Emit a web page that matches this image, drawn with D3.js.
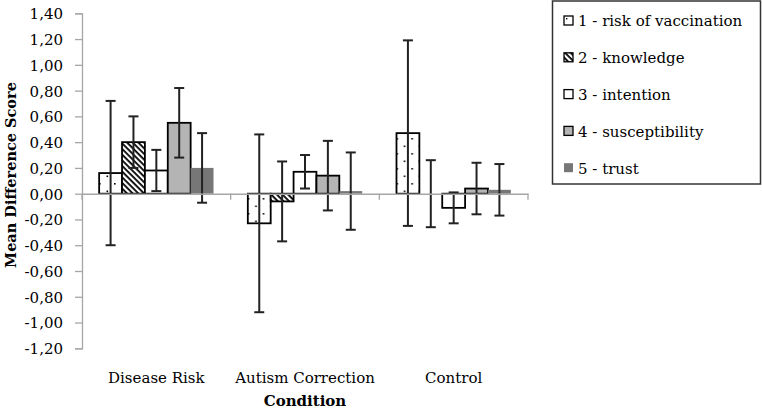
<!DOCTYPE html>
<html>
<head>
<meta charset="utf-8">
<script src="https://cdn.jsdelivr.net/npm/d3@7"></script>
<style>
  html, body { margin: 0; padding: 0; background: #fff; }
  svg { display: block; }
  text { font-family: "DejaVu Serif", serif; fill: #000; }
</style>
</head>
<body>
<svg id="chart" width="762" height="411"></svg>
<script>
// ---- data ----
const categories = ["Disease Risk", "Autism Correction", "Control"];
const seriesNames = ["1 - risk of vaccination", "2 - knowledge", "3 - intention", "4 - susceptibility", "5 - trust"];
const diseaseRiskMeans = [0.16, 0.40, 0.18, 0.55, 0.20];
const autismCorrectionMeans = [-0.23, -0.06, 0.17, 0.14, 0.02];
const controlMeans = [0.47, 0.00, -0.11, 0.04, 0.03];
const diseaseRiskErrors = [0.56, 0.20, 0.16, 0.27, 0.27];
const autismCorrectionErrors = [0.69, 0.31, 0.13, 0.27, 0.30];
const controlErrors = [0.72, 0.26, 0.12, 0.20, 0.20];
const yTicks = [1.4, 1.2, 1.0, 0.8, 0.6, 0.4, 0.2, 0.0, -0.2, -0.4, -0.6, -0.8, -1.0, -1.2];

const meansByCat = [diseaseRiskMeans, autismCorrectionMeans, controlMeans];
const errsByCat = [diseaseRiskErrors, autismCorrectionErrors, controlErrors];
const rows = [];
categories.forEach((c, ci) => {
  seriesNames.forEach((s, si) => {
    rows.push({cat: c, series: s, si: si, value: meansByCat[ci][si], err: errsByCat[ci][si]});
  });
});

// ---- layout ----
const svg = d3.select("#chart");
const plotLeft = 82, plotRight = 528, plotTop = 13.3, plotBottom = 348.3;
const axisGray = "#a6a6a6";
const fills = ["url(#dots)", "url(#hatch)", "#ffffff", "#b4b4b4", "#777777"];
const strokes = ["#000", "#000", "#000", "#000", "none"];

const defs = svg.append("defs");
const dots = defs.append("pattern").attr("id", "dots").attr("patternUnits", "userSpaceOnUse")
  .attr("width", 15).attr("height", 15).attr("x", 2).attr("y", 3);
dots.append("rect").attr("width", 15).attr("height", 15).attr("fill", "#fff");
dots.append("rect").attr("x", 0).attr("y", 0).attr("width", 1.6).attr("height", 1.6).attr("fill", "#000");
dots.append("rect").attr("x", 7.5).attr("y", 7.5).attr("width", 1.6).attr("height", 1.6).attr("fill", "#000");

const hatch = defs.append("pattern").attr("id", "hatch").attr("patternUnits", "userSpaceOnUse")
  .attr("width", 4).attr("height", 4).attr("patternTransform", "rotate(45)");
hatch.append("rect").attr("width", 4).attr("height", 4).attr("fill", "#fff");
hatch.append("rect").attr("width", 4).attr("height", 1.8).attr("fill", "#000");

const x0 = d3.scaleBand().domain(categories).range([plotLeft, plotRight]).padding(0);
const x1 = d3.scaleBand().domain(seriesNames).range([0, x0.bandwidth()]).paddingInner(0).paddingOuter(0.75);
const y = d3.scaleLinear().domain([-1.2, 1.4]).range([plotBottom, plotTop]);

// y axis
const yAxis = d3.axisLeft(y).tickValues(yTicks).tickSize(7).tickPadding(12)
  .tickFormat(d => d3.format(".2f")(d).replace(".", ",").replace("−", "-"));
const gy = svg.append("g").attr("transform", `translate(${plotLeft},0)`).call(yAxis);
gy.select(".domain").attr("stroke", axisGray).attr("stroke-width", 1.3);
gy.selectAll(".tick line").attr("stroke", axisGray).attr("stroke-width", 1.3);
gy.selectAll(".tick text").attr("font-size", 15).attr("font-family", "DejaVu Serif").attr("fill", "#000").attr("dy", "0.36em");

// bars
const groups = svg.append("g").selectAll("g").data(categories).join("g")
  .attr("transform", d => `translate(${x0(d)},0)`);
groups.selectAll("rect").data(c => rows.filter(r => r.cat === c)).join("rect")
  .attr("x", d => x1(d.series))
  .attr("width", x1.bandwidth())
  .attr("y", d => y(Math.max(0, d.value)))
  .attr("height", d => Math.abs(y(d.value) - y(0)))
  .attr("fill", d => fills[d.si])
  .attr("stroke", d => strokes[d.si])
  .attr("stroke-width", 1.8);

// x axis (zero line)
const xAxis = d3.axisBottom(x0).tickSize(0).tickFormat("");
const gx = svg.append("g").attr("transform", `translate(0,${y(0)})`).call(xAxis);
gx.select(".domain").attr("stroke", axisGray).attr("stroke-width", 1.6);
// boundary ticks
const boundaries = categories.map(c => x0(c) + x0.bandwidth()).concat([x0(categories[0])]);
gx.selectAll("line.bt").data(boundaries).join("line").attr("class", "bt")
  .attr("x1", d => d).attr("x2", d => d).attr("y1", 0).attr("y2", 6)
  .attr("stroke", axisGray).attr("stroke-width", 1.3);

// error bars
const eg = groups.selectAll("g.err").data(c => rows.filter(r => r.cat === c)).join("g").attr("class", "err");
const ecx = d => x1(d.series) + x1.bandwidth() / 2;
eg.append("line").attr("x1", ecx).attr("x2", ecx)
  .attr("y1", d => y(d.value + d.err)).attr("y2", d => y(d.value - d.err));
eg.append("line").attr("x1", d => ecx(d) - 5).attr("x2", d => ecx(d) + 5)
  .attr("y1", d => y(d.value + d.err)).attr("y2", d => y(d.value + d.err));
eg.append("line").attr("x1", d => ecx(d) - 5).attr("x2", d => ecx(d) + 5)
  .attr("y1", d => y(d.value - d.err)).attr("y2", d => y(d.value - d.err));
eg.selectAll("line").attr("stroke", "#222").attr("stroke-width", 2);

// category labels
svg.append("g").selectAll("text").data(categories).join("text")
  .attr("x", d => x0(d) + x0.bandwidth() / 2)
  .attr("y", 383)
  .attr("text-anchor", "middle")
  .attr("font-size", 15)
  .text(d => d);

// axis titles
svg.append("text").attr("x", (plotLeft + plotRight) / 2).attr("y", 406)
  .attr("text-anchor", "middle").attr("font-size", 15).attr("font-weight", "bold").text("Condition");
svg.append("text").attr("transform", "translate(16,175) rotate(-90)")
  .attr("text-anchor", "middle").attr("font-size", 14.5).attr("font-weight", "bold").text("Mean Difference Score");

// legend
const lg = svg.append("g");
lg.append("rect").attr("x", 552.5).attr("y", 1).attr("width", 208).attr("height", 183)
  .attr("fill", "#fff").attr("stroke", "#333").attr("stroke-width", 1.5);
const li = lg.selectAll("g.li").data(seriesNames).join("g").attr("class", "li")
  .attr("transform", (d, i) => `translate(0,${21 + i * 36.8})`);
li.append("rect").attr("x", 564).attr("y", -5).attr("width", 9).attr("height", 9)
  .attr("fill", (d, i) => i === 0 ? "#fff" : fills[i])
  .attr("stroke", (d, i) => strokes[i]).attr("stroke-width", 1.3);
li.filter((d, i) => i === 0).append("rect").attr("x", 566).attr("y", -3).attr("width", 1.4).attr("height", 1.4).attr("fill", "#000");
li.append("text").attr("x", 578).attr("y", 0).attr("dy", "0.36em").attr("font-size", 15).text(d => d);
</script>
</body>
</html>
